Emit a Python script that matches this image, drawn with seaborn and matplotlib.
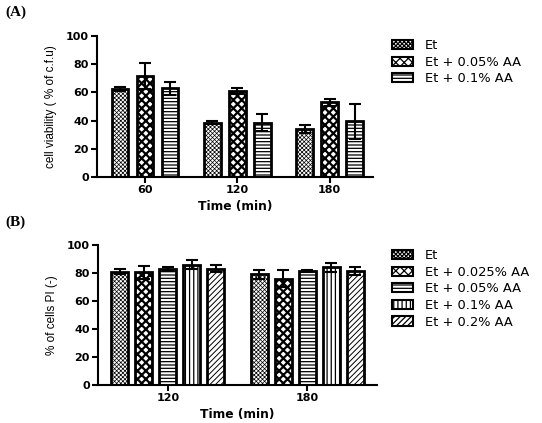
import numpy as np
import pandas as pd
import seaborn as sns
import matplotlib.pyplot as plt
from matplotlib.patches import Patch

# panel A data
times_a = ['60', '120', '180']
groups_a = ['Et', 'Et + 0.05% AA', 'Et + 0.1% AA']
mean_a = [[62.5, 38.5, 34.0],
          [71.5, 61.0, 53.0],
          [63.0, 38.5, 39.5]]
sd_a = [[1.5, 1.0, 3.0],
        [9.0, 2.0, 2.5],
        [4.5, 6.0, 12.5]]
hatch_a = ['xxxxxxxx', 'xxxx', '-----']

# panel B data
times_b = ['120', '180']
groups_b = ['Et', 'Et + 0.025% AA', 'Et + 0.05% AA', 'Et + 0.1% AA', 'Et + 0.2% AA']
mean_b = [[81.0, 79.0],
          [80.5, 76.0],
          [83.0, 81.5],
          [86.0, 84.0],
          [83.0, 81.5]]
sd_b = [[2.0, 3.0],
        [4.5, 6.0],
        [1.5, 1.0],
        [3.0, 3.5],
        [2.5, 3.0]]
hatch_b = ['xxxxxxxx', 'xxxx', '-----', '||||', '//////']

# hatch line widths (fine dots for Et, heavy for the checker pattern)
hatch_lw = {'xxxxxxxx': 0.5, 'xxxx': 1.6, '-----': 0.9, '||||': 0.9, '//////': 0.7}

sns.set_style('ticks')
plt.rcParams['font.family'] = ['Liberation Sans', 'DejaVu Sans']
plt.rcParams['hatch.linewidth'] = 0.9
for k in ['text.color', 'axes.labelcolor', 'xtick.color', 'ytick.color',
          'axes.edgecolor']:
    plt.rcParams[k] = 'black'


def set_hlw(p, h):
    if hasattr(p, 'set_hatch_linewidth'):
        p.set_hatch_linewidth(hatch_lw[h])


def long_df(times, groups, means):
    rows = []
    for g, vals in zip(groups, means):
        for t, v in zip(times, vals):
            rows.append({'time': t, 'group': g, 'value': v})
    return pd.DataFrame(rows)


def panel(ax, times, groups, means, sds, hatches, width, gap, ylabel, xlim):
    df = long_df(times, groups, means)
    sns.barplot(data=df, x='time', y='value', hue='group', order=times,
                hue_order=groups, errorbar=None, width=width, gap=gap,
                palette=['white'] * len(groups), ax=ax, legend=False)
    for cont, h, sd in zip(ax.containers, hatches, sds):
        xs, ys = [], []
        for bar in cont:
            bar.set_hatch(h)
            set_hlw(bar, h)
            bar.set_edgecolor('black')
            bar.set_linewidth(2.0)
            bar.set_facecolor('white')
            xs.append(bar.get_x() + bar.get_width() / 2)
            ys.append(bar.get_height())
        ax.errorbar(xs, ys, yerr=sd, fmt='none', ecolor='black',
                    elinewidth=1.5, capsize=4.5, capthick=1.5, zorder=5)
    ax.set_ylim(0, 100)
    ax.set_yticks([0, 20, 40, 60, 80, 100])
    ax.set_xlim(*xlim)
    sns.despine(ax=ax)
    for s in ['left', 'bottom']:
        ax.spines[s].set_linewidth(1.5)
        ax.spines[s].set_color('black')
    ax.tick_params(width=1.5, length=4, labelsize=8, pad=2, colors='black')
    for lab in ax.get_xticklabels() + ax.get_yticklabels():
        lab.set_fontweight('bold')
        lab.set_family('DejaVu Sans')
    ax.set_xlabel('Time (min)', fontsize=8.8, fontweight='bold', labelpad=3,
                  family='DejaVu Sans')
    ax.set_ylabel(ylabel, fontsize=8.5, labelpad=6)


fig = plt.figure(figsize=(5.42, 4.23), dpi=100)
ax1 = fig.add_axes([97 / 542, 1 - 177 / 423, 276 / 542, 141 / 423])
ax2 = fig.add_axes([98 / 542, 1 - 385 / 423, 279 / 542, 140 / 423])

panel(ax1, times_a, groups_a, mean_a, sd_a, hatch_a, 0.81, 0.33,
      'cell viability ( % of c.f.u)', (-0.52, 2.47))
panel(ax2, times_b, groups_b, mean_b, sd_b, hatch_b, 0.86, 0.3,
      '% of cells PI (-)', (-0.5, 1.5))

for ax, groups, hatches, top in [(ax1, groups_a, hatch_a, 39),
                                 (ax2, groups_b, hatch_b, 249)]:
    handles = []
    for g, h in zip(groups, hatches):
        p = Patch(facecolor='white', edgecolor='black', linewidth=1.5,
                  hatch=h, label=g)
        set_hlw(p, h)
        handles.append(p)
    ax.legend(handles=handles, loc='upper left',
              bbox_to_anchor=(392 / 542, 1 - top / 423),
              bbox_transform=fig.transFigure, frameon=False,
              prop={'family': 'DejaVu Sans', 'size': 9.4},
              borderpad=0, borderaxespad=0, handlelength=1.6,
              handleheight=0.7, handletextpad=0.9, labelspacing=0.28)

fig.text(5 / 542, 1 - 12 / 423, '(A)', fontsize=11, fontweight='bold',
         family='Liberation Serif', va='center')
fig.text(5 / 542, 1 - 222 / 423, '(B)', fontsize=11, fontweight='bold',
         family='Liberation Serif', va='center')

fig.savefig('out.png', dpi=100)
